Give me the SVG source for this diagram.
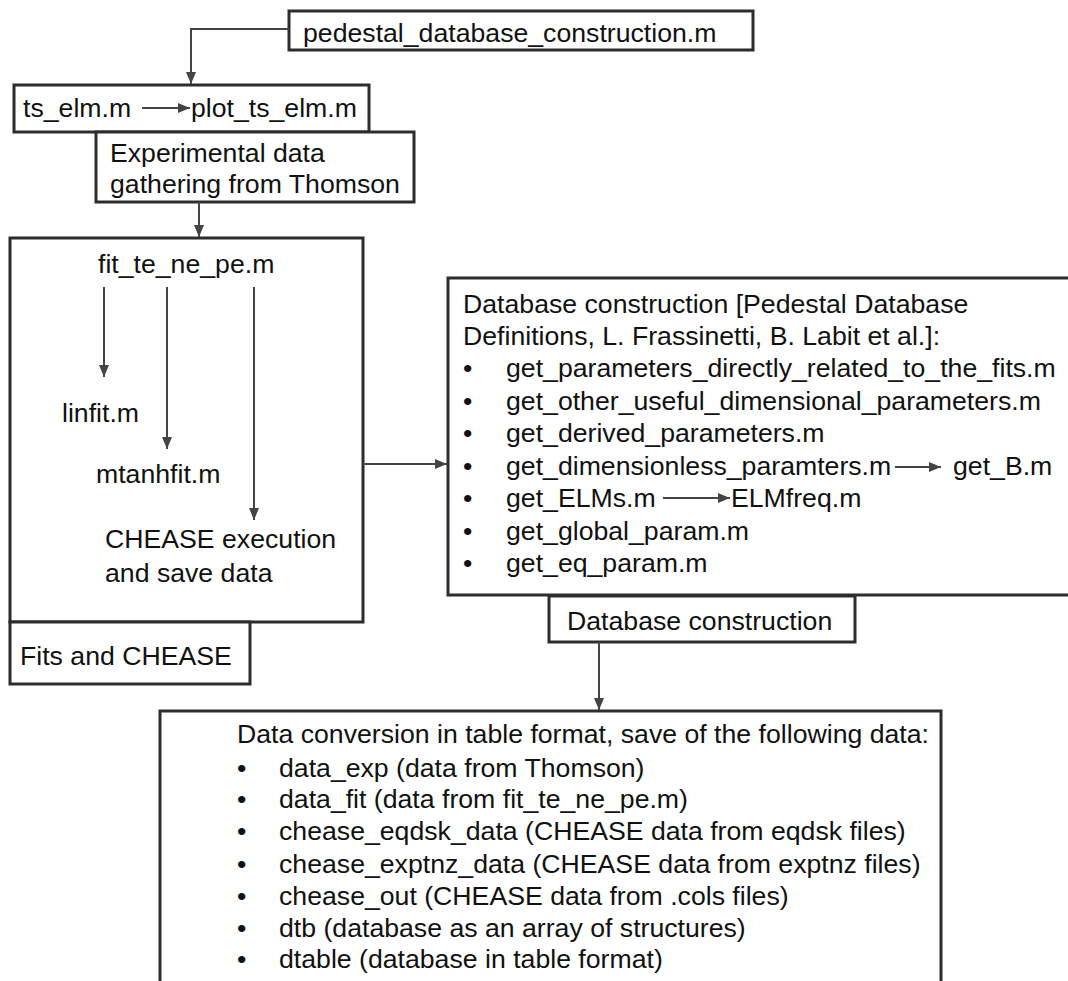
<svg xmlns="http://www.w3.org/2000/svg" width="1068" height="981" viewBox="0 0 1068 981">
<style>
.box{fill:#fff;stroke:#2d2d2d;stroke-width:3}
.t{font-family:"Liberation Sans",Arial,sans-serif;font-size:26.67px;fill:#111}
.c{fill:none;stroke:#444;stroke-width:2}
</style>
<defs>
<marker id="ah" markerUnits="userSpaceOnUse" markerWidth="12" markerHeight="10" refX="12" refY="5" orient="auto">
<path d="M0,0 L12,5 L0,10 z" fill="#444"/>
</marker>
</defs>
<rect width="1068" height="981" fill="#fff"/>
<g id="n-main">
<rect class="box" x="289" y="11" width="464" height="39"/>
<text class="t" x="303" y="42">pedestal_database_construction.m</text>
</g>
<g id="n-tselm">
<rect class="box" x="14" y="85" width="355" height="47"/>
<text class="t" x="23" y="117">ts_elm.m</text>
<text class="t" x="191" y="117">plot_ts_elm.m</text>
</g>
<g id="n-exp">
<rect class="box" x="96" y="132" width="318" height="70"/>
<text class="t" x="110" y="162">Experimental data</text>
<text class="t" x="110" y="193">gathering from Thomson</text>
</g>
<g id="n-fit">
<rect class="box" x="10" y="238" width="353" height="384"/>
<text class="t" x="98" y="273">fit_te_ne_pe.m</text>
<text class="t" x="62" y="422">linfit.m</text>
<text class="t" x="96" y="483">mtanhfit.m</text>
<text class="t" x="105" y="548">CHEASE execution</text>
<text class="t" x="105" y="582">and save data</text>
</g>
<g id="n-fitlabel">
<rect class="box" x="10" y="622" width="240" height="62"/>
<text class="t" x="20" y="665">Fits and CHEASE</text>
</g>
<g id="n-db">
<rect class="box" x="448" y="278" width="630" height="317"/>
<text class="t" x="463" y="313">Database construction [Pedestal Database</text>
<text class="t" x="463" y="345">Definitions, L. Frassinetti, B. Labit et al.]:</text>
<text class="t" x="463" y="377">•</text><text class="t" x="506" y="377">get_parameters_directly_related_to_the_fits.m</text>
<text class="t" x="463" y="410">•</text><text class="t" x="506" y="410">get_other_useful_dimensional_parameters.m</text>
<text class="t" x="463" y="442">•</text><text class="t" x="506" y="442">get_derived_parameters.m</text>
<text class="t" x="463" y="475">•</text><text class="t" x="506" y="475">get_dimensionless_paramters.m</text>
<text class="t" x="953" y="475">get_B.m</text>
<text class="t" x="463" y="507">•</text><text class="t" x="506" y="507">get_ELMs.m</text>
<text class="t" x="731" y="507">ELMfreq.m</text>
<text class="t" x="463" y="540">•</text><text class="t" x="506" y="540">get_global_param.m</text>
<text class="t" x="463" y="572">•</text><text class="t" x="506" y="572">get_eq_param.m</text>
</g>
<g id="n-dblabel">
<rect class="box" x="549" y="596" width="306" height="46"/>
<text class="t" x="567" y="630">Database construction</text>
</g>
<g id="n-conv">
<rect class="box" x="160" y="711" width="781" height="290"/>
<text class="t" x="237" y="743">Data conversion in table format, save of the following data:</text>
<text class="t" x="237" y="777">•</text><text class="t" x="279" y="777">data_exp (data from Thomson)</text>
<text class="t" x="237" y="808">•</text><text class="t" x="279" y="808">data_fit (data from fit_te_ne_pe.m)</text>
<text class="t" x="237" y="840">•</text><text class="t" x="279" y="840">chease_eqdsk_data (CHEASE data from eqdsk files)</text>
<text class="t" x="237" y="873">•</text><text class="t" x="279" y="873">chease_exptnz_data (CHEASE data from exptnz files)</text>
<text class="t" x="237" y="905">•</text><text class="t" x="279" y="905">chease_out (CHEASE data from .cols files)</text>
<text class="t" x="237" y="937">•</text><text class="t" x="279" y="937">dtb (database as an array of structures)</text>
<text class="t" x="237" y="968">•</text><text class="t" x="279" y="968">dtable (database in table format)</text>
</g>
<g id="connectors">
<path class="c" d="M289,29 H191 V84" marker-end="url(#ah)"/>
<path class="c" d="M142,108 H190" marker-end="url(#ah)"/>
<path class="c" d="M199,202 V237" marker-end="url(#ah)"/>
<path class="c" d="M104,287 V377" marker-end="url(#ah)"/>
<path class="c" d="M167,287 V449" marker-end="url(#ah)"/>
<path class="c" d="M254,287 V520" marker-end="url(#ah)"/>
<path class="c" d="M363,464 H447" marker-end="url(#ah)"/>
<path class="c" d="M895,467 H941" marker-end="url(#ah)"/>
<path class="c" d="M663,498 H730" marker-end="url(#ah)"/>
<path class="c" d="M599,642 V710" marker-end="url(#ah)"/>
</g>
</svg>
